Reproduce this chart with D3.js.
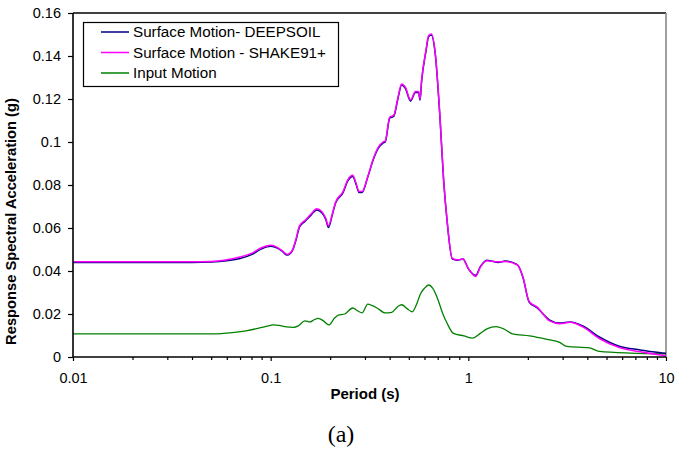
<!DOCTYPE html>
<html>
<head>
<meta charset="utf-8">
<script src="https://cdn.jsdelivr.net/npm/d3@7"></script>
<style>
  html, body { margin: 0; padding: 0; background: #fff; }
  svg { display: block; }
  text { font-family: "Liberation Sans", Arial, sans-serif; fill: #000; }
</style>
</head>
<body>
<svg id="chart" width="675" height="449"></svg>
<script>
// Response spectra: period (s) and spectral acceleration (g)
const deepsoilPeriod = [0.01,0.02,0.03,0.04,0.05,0.06,0.07,0.08,0.09,0.1,0.108,0.115,0.121,0.128,0.134,0.14,0.149,0.16,0.171,0.182,0.19,0.196,0.205,0.213,0.232,0.246,0.26,0.27,0.28,0.29,0.31,0.33,0.35,0.37,0.38,0.40,0.42,0.44,0.46,0.48,0.51,0.54,0.56,0.57,0.58,0.61,0.63,0.65,0.68,0.72,0.75,0.78,0.83,0.88,0.94,1.0,1.09,1.15,1.24,1.33,1.41,1.54,1.77,1.89,2.03,2.23,2.58,2.9,3.27,3.8,4.6,5.8,7.4,9.6,10];
const deepsoilSa = [0.044,0.044,0.044,0.044,0.0442,0.0448,0.0458,0.0476,0.0503,0.0515,0.0507,0.049,0.0474,0.049,0.054,0.0605,0.063,0.066,0.0684,0.067,0.064,0.0602,0.066,0.0716,0.0763,0.082,0.084,0.0805,0.0765,0.0765,0.0837,0.0916,0.097,0.0995,0.1,0.111,0.112,0.12,0.1265,0.125,0.119,0.123,0.123,0.1195,0.128,0.142,0.149,0.1498,0.141,0.110,0.082,0.0637,0.0455,0.045,0.0456,0.041,0.038,0.042,0.045,0.0445,0.044,0.0446,0.043,0.037,0.0256,0.0228,0.0172,0.0158,0.0163,0.0144,0.0093,0.005,0.0033,0.0019,0.0018];

const shakePeriod = [0.01,0.02,0.03,0.04,0.05,0.06,0.07,0.08,0.09,0.1,0.108,0.115,0.121,0.128,0.134,0.14,0.149,0.16,0.171,0.182,0.19,0.196,0.205,0.213,0.232,0.246,0.26,0.27,0.28,0.29,0.31,0.33,0.35,0.37,0.38,0.40,0.42,0.44,0.46,0.48,0.51,0.54,0.56,0.57,0.58,0.61,0.63,0.65,0.68,0.72,0.75,0.78,0.83,0.88,0.94,1.0,1.09,1.15,1.24,1.33,1.41,1.54,1.77,1.89,2.03,2.23,2.58,2.9,3.27,3.8,4.6,5.8,7.4,9.6,10];
const shakeSa = [0.0443,0.0443,0.0443,0.0443,0.0444,0.0452,0.0465,0.0482,0.0508,0.052,0.051,0.0492,0.0477,0.0493,0.0545,0.061,0.0635,0.0665,0.069,0.0675,0.0645,0.061,0.0665,0.072,0.0768,0.0825,0.0845,0.081,0.077,0.077,0.084,0.092,0.0975,0.1,0.1005,0.1115,0.1125,0.1205,0.127,0.1255,0.1195,0.1235,0.1235,0.12,0.1285,0.1425,0.1495,0.1502,0.1415,0.1105,0.0825,0.064,0.0458,0.0452,0.0455,0.0412,0.0375,0.0418,0.0448,0.0444,0.0443,0.0444,0.0428,0.0372,0.0258,0.0232,0.0168,0.0155,0.0162,0.014,0.0086,0.0044,0.0024,0.0008,0.0006];

const inputPeriod = [0.01,0.02,0.03,0.04,0.05,0.056,0.064,0.075,0.088,0.095,0.103,0.11,0.12,0.13,0.138,0.149,0.158,0.165,0.174,0.185,0.197,0.21,0.22,0.237,0.26,0.275,0.29,0.31,0.325,0.345,0.38,0.41,0.44,0.46,0.49,0.52,0.55,0.57,0.6,0.63,0.66,0.70,0.74,0.78,0.84,0.95,1.05,1.15,1.25,1.38,1.5,1.67,2.04,2.5,2.9,3.15,4.1,4.6,6.6,10];
const inputSa = [0.0108,0.0108,0.0108,0.0108,0.0108,0.0109,0.0113,0.0122,0.0135,0.0142,0.0149,0.0147,0.014,0.0138,0.0145,0.0168,0.0163,0.0172,0.018,0.0168,0.0149,0.018,0.0195,0.02,0.0228,0.0215,0.0205,0.0246,0.024,0.0228,0.0205,0.0208,0.0235,0.0243,0.0225,0.021,0.025,0.029,0.032,0.0335,0.032,0.027,0.0205,0.0158,0.011,0.0098,0.0088,0.011,0.0132,0.0141,0.0132,0.0108,0.0098,0.0082,0.0068,0.0049,0.0042,0.0026,0.0018,0.0015];

const seriesNames = ["Surface Motion- DEEPSOIL", "Surface Motion - SHAKE91+", "Input Motion"];
const seriesColors = ["#000080", "#ff00ff", "#008000"];
const xTickValues = [0.01, 0.1, 1, 10];
const xTickLabels = ["0.01", "0.1", "1", "10"];
const yTickValues = [0, 0.02, 0.04, 0.06, 0.08, 0.1, 0.12, 0.14, 0.16];
const yTickLabels = ["0", "0.02", "0.04", "0.06", "0.08", "0.1", "0.12", "0.14", "0.16"];

const svg = d3.select("#chart");
const plot = { left: 73, top: 13, right: 666, bottom: 357 };

const x = d3.scaleLog().domain([0.01, 10]).range([plot.left, plot.right]);
const y = d3.scaleLinear().domain([0, 0.16]).range([plot.bottom, plot.top]);

// curves
const series = [
  d3.zip(deepsoilPeriod, deepsoilSa),
  d3.zip(shakePeriod, shakeSa),
  d3.zip(inputPeriod, inputSa)
];
const line = d3.line()
  .x(d => x(d[0]))
  .y(d => y(d[1]))
  .curve(d3.curveMonotoneX);

// frame: top black, right grey
svg.append("line").attr("x1", plot.left).attr("x2", plot.right)
  .attr("y1", plot.top).attr("y2", plot.top)
  .attr("stroke", "#000").attr("stroke-width", 1.3);
svg.append("line").attr("x1", plot.right).attr("x2", plot.right)
  .attr("y1", plot.top).attr("y2", plot.bottom)
  .attr("stroke", "#888").attr("stroke-width", 1.6);

// draw order: input, DEEPSOIL, then SHAKE on top of surface curves
[2, 0, 1].forEach(i => {
  svg.append("path")
    .datum(series[i])
    .attr("fill", "none")
    .attr("stroke", seriesColors[i])
    .attr("stroke-width", i === 2 ? 1.3 : 1.5)
    .attr("stroke-linejoin", "round")
    .attr("d", line);
});

// x axis
const xMinor = [];
[0.01, 0.1, 1].forEach(d => { for (let k = 2; k <= 9; k++) xMinor.push(d * k); });
const xAxisG = svg.append("g").attr("transform", `translate(0,${plot.bottom})`);
xAxisG.call(d3.axisBottom(x).tickValues(xMinor).tickSize(3).tickFormat(""));
xAxisG.call(g => g.select(".domain").remove());
const xMajor = svg.append("g").attr("transform", `translate(0,${plot.bottom})`)
  .call(d3.axisBottom(x).tickValues(xTickValues).tickSize(4).tickPadding(12)
    .tickFormat((d, i) => xTickLabels[i]));
xMajor.select(".domain").attr("stroke-width", 1.6).attr("d", `M${plot.left},0H${plot.right}`);
xMajor.selectAll("text").attr("font-size", 14.5).attr("font-family", "Liberation Sans, Arial, sans-serif");
xAxisG.selectAll("line").attr("stroke-width", 1.2);
xMajor.selectAll("line").attr("stroke-width", 1.2);

// y axis
const yAxisG = svg.append("g").attr("transform", `translate(${plot.left},0)`)
  .call(d3.axisLeft(y).tickValues(yTickValues).tickSize(5).tickPadding(7)
    .tickFormat((d, i) => yTickLabels[i]));
yAxisG.select(".domain").attr("stroke-width", 1.6).attr("d", `M0,${plot.top}V${plot.bottom}`);
yAxisG.selectAll("line").attr("stroke-width", 1.2);
yAxisG.selectAll("text").attr("font-size", 14.5).attr("font-family", "Liberation Sans, Arial, sans-serif");

// axis titles
svg.append("text")
  .attr("x", 365)
  .attr("y", 399)
  .attr("text-anchor", "middle")
  .attr("font-size", 15)
  .attr("font-weight", "bold")
  .text("Period (s)");

svg.append("text")
  .attr("transform", "translate(15.5,221.5) rotate(-90)")
  .attr("text-anchor", "middle")
  .attr("font-size", 14.7)
  .attr("font-weight", "bold")
  .text("Response Spectral Acceleration (g)");

// panel label
svg.append("text")
  .attr("x", 341)
  .attr("y", 442)
  .attr("text-anchor", "middle")
  .attr("font-size", 24)
  .style("font-family", "'Liberation Serif', 'Times New Roman', serif")
  .text("(a)");

// legend
const legend = svg.append("g");
legend.append("rect")
  .attr("x", 83.5).attr("y", 22.5).attr("width", 255).attr("height", 64)
  .attr("fill", "#fff").attr("stroke", "#000").attr("stroke-width", 1.2);
seriesNames.forEach((name, i) => {
  const cy = 32 + i * 20.5;
  legend.append("line")
    .attr("x1", 101).attr("x2", 129).attr("y1", cy).attr("y2", cy)
    .attr("stroke", seriesColors[i]).attr("stroke-width", 1.5);
  legend.append("text")
    .attr("x", 133).attr("y", cy + 5)
    .attr("font-size", 15.2)
    .text(name);
});
</script>
</body>
</html>
